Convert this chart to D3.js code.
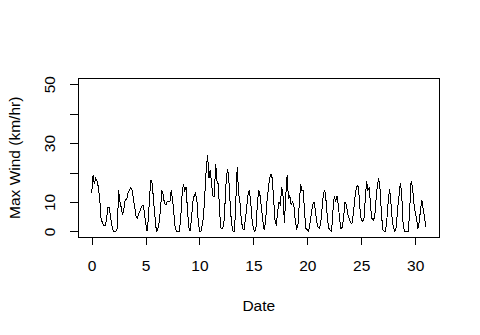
<!DOCTYPE html>
<html>
<head>
<meta charset="utf-8">
<script src="https://d3js.org/d3.v7.min.js"></script>
<style>
  body { margin: 0; background: #fff; }
  svg { display: block; font-family: "Liberation Sans", Arial, sans-serif; }
  .axis text { font-size: 15.5px; fill: #000; }
  .axis line { stroke: #000; shape-rendering: crispEdges; }
</style>
</head>
<body>
<svg width="480" height="335"></svg>
<script>
// readings every 3 hours, one row per day (day 0 .. day 31)
var stepsPerDay = 8;
var maxWind = [
  13, 19, 16, 18, 17, 15, 11, 4,
  3, 2, 2, 4, 8, 8, 5, 2,
  0, 0, 0, 1, 14, 10, 8, 5.5,
  8, 11, 11, 13, 14, 15, 14, 11,
  8, 5, 4.5, 6, 7, 8.5, 9, 7,
  3, 0, 4, 12, 17.5, 16, 10, 5,
  0, 0.5, 3, 7, 14, 12.5, 9.5, 9,
  10, 10, 10, 14, 11, 6, 1, 0,
  0, 0, 4, 12, 16, 14, 15, 8,
  1.5, 0, 4, 10, 12, 13, 11, 4,
  0, 0, 2, 5, 13, 21, 26, 18,
  21, 16, 12, 12, 23, 17, 16, 6,
  1, 1, 2, 10, 19, 21, 16, 7,
  2, 0, 0, 11, 22, 13, 10, 4,
  1, 0.5, 4, 8, 12.5, 14, 10, 4,
  1, 0, 1.5, 10, 14, 12, 8, 3.5,
  0.5, 3, 10, 14, 18, 19.5, 18, 11,
  4, 2, 7, 10, 9, 15, 12, 3,
  12, 19, 11, 12, 9, 10, 9, 4,
  1, 2, 9, 16, 14, 14, 6, 1,
  0.5, 0, 3, 6, 9, 10, 7, 3,
  1.5, 1, 3, 8, 13, 14, 10, 4,
  1, 0.5, 0, 7, 12, 10, 12, 9,
  4, 1, 1.5, 5, 10, 9, 6, 4.5,
  3, 2.5, 5.5, 10, 14, 15.5, 15, 8,
  4, 3.5, 4, 11, 17, 14, 15, 8,
  4.4, 3.8, 5, 11, 16, 18, 14, 6,
  0.5, 0, 0, 4, 10, 14.5, 10, 4,
  1, 0, 1.5, 7.5, 12, 16.3, 13, 3,
  0, 0, 0, 0, 8, 17, 15, 10,
  6.5, 4.5, 1, 3, 7.5, 10.5, 7.5, 4.5,
  1.5
];
var xTicks = [0, 5, 10, 15, 20, 25, 30];
var yTicks = [0, 10, 20, 30, 40, 50];
var yLabelled = [0, 10, 30, 50];   // R drops 20 and 40, they would overlap

var svg = d3.select("svg");
var plotLeft = 78.3, plotRight = 439.3, plotTop = 78.3, plotBottom = 237.3;

var data = maxWind.map(function(v, i) { return {day: i / stepsPerDay, wind: v}; });

// R style 4% padding round the data range
var xr = [0, 31], yr = [0, 50];
var xpad = (xr[1] - xr[0]) * 0.04, ypad = (yr[1] - yr[0]) * 0.04;
var x = d3.scaleLinear().domain([xr[0] - xpad, xr[1] + xpad]).range([plotLeft, plotRight]);
var y = d3.scaleLinear().domain([yr[0] - ypad, yr[1] + ypad]).range([plotBottom, plotTop]);

var line = d3.line()
    .x(function(d) { return x(d.day); })
    .y(function(d) { return y(d.wind); });

svg.append("path")
    .datum(data)
    .attr("d", line)
    .attr("fill", "none")
    .attr("stroke", "#000")
    .attr("stroke-width", 1)
    .attr("shape-rendering", "crispEdges");

svg.append("rect")
    .attr("x", plotLeft).attr("y", plotTop)
    .attr("width", plotRight - plotLeft).attr("height", plotBottom - plotTop)
    .attr("fill", "none").attr("stroke", "#000").attr("stroke-width", 1)
    .attr("shape-rendering", "crispEdges");

var xAxis = svg.append("g")
    .attr("class", "axis")
    .attr("transform", "translate(0," + plotBottom + ")")
    .call(d3.axisBottom(x).tickValues(xTicks).tickSize(7.5).tickFormat(d3.format("d")));
xAxis.select(".domain").remove();
xAxis.selectAll("text").attr("y", 34).attr("dy", null);

var yAxis = svg.append("g")
    .attr("class", "axis")
    .attr("transform", "translate(" + plotLeft + ",0)")
    .call(d3.axisLeft(y).tickValues(yTicks).tickSize(8)
      .tickFormat(function(d) { return yLabelled.indexOf(d) >= 0 ? d : ""; }));
yAxis.select(".domain").remove();
yAxis.selectAll("text")
    .attr("x", null)
    .attr("text-anchor", "middle")
    .attr("transform", "translate(-22,0) rotate(-90)")
    .attr("y", 0)
    .attr("dy", "-0.1em");

svg.append("text")
    .attr("x", (plotLeft + plotRight) / 2).attr("y", 311)
    .attr("text-anchor", "middle")
    .style("font-size", "15.5px")
    .text("Date");

svg.append("text")
    .attr("transform", "translate(20," + (plotTop + plotBottom) / 2 + ") rotate(-90)")
    .attr("text-anchor", "middle")
    .style("font-size", "15.5px")
    .text("Max Wind (km/hr)");
</script>
</body>
</html>
